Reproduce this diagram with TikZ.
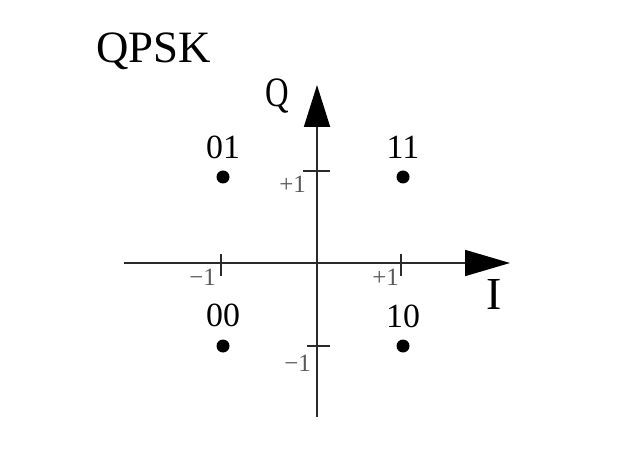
\documentclass[tikz,border=0pt]{standalone}
\usepackage{fontspec}
\setmainfont{Liberation Serif}
\usetikzlibrary{arrows.meta}
\definecolor{axisgray}{HTML}{2A2A2A}
\definecolor{ticklbl}{HTML}{5A5A5A}
\begin{document}
\begin{tikzpicture}[x=1bp,y=-1bp,
  axisline/.style={draw=axisgray,line width=1.8bp},
  tickline/.style={draw=axisgray,line width=1.1bp},
  pt/.style={circle,fill=black,inner sep=0pt,minimum size=13bp},
  bits/.style={inner sep=0pt,anchor=base,font=\fontsize{34}{34}\selectfont},
  ticklabel/.style={inner sep=0pt,anchor=base east,text=ticklbl,font=\fontsize{25}{25}\selectfont},
  axlabel/.style={inner sep=0pt,anchor=base}]
\useasboundingbox[fill=white] (0,0) rectangle (621,468);
% title
\node[inner sep=0pt,anchor=base west,font=\fontsize{45}{45}\selectfont] (title) at (96,63) {QPSK};
% axes
\coordinate (xl) at (124,263);
\coordinate (xr) at (510,263);
\coordinate (yb) at (317,417);
\coordinate (yt) at (317,85);
\draw[axisline,-{Triangle[length=45bp,width=26bp,color=black,fill=black]}] (xl) -- (xr);
\draw[axisline,-{Triangle[length=42bp,width=26bp,color=black,fill=black]}] (yb) -- (yt);
% axis labels
\node[axlabel,font=\fontsize{42}{42}\selectfont,xscale=0.78] (qlbl) at (277,107) {Q};
\node[axlabel,font=\fontsize{46}{46}\selectfont] (ilbl) at (494,310) {I};
% ticks
\coordinate (tx1a) at (221,254); \coordinate (tx1b) at (221,276);
\coordinate (tx2a) at (401,254); \coordinate (tx2b) at (401,276);
\coordinate (ty1a) at (303,171); \coordinate (ty1b) at (330,171);
\coordinate (ty2a) at (307,346); \coordinate (ty2b) at (330,346);
\draw[tickline] (tx1a) -- (tx1b);
\draw[tickline] (tx2a) -- (tx2b);
\draw[tickline] (ty1a) -- (ty1b);
\draw[tickline] (ty2a) -- (ty2b);
% tick labels
\node[ticklabel] (lxm) at (216,286) {−1};
\node[ticklabel] (lxp) at (399,286) {+1};
\node[ticklabel] (lyp) at (306,193) {+1};
\node[ticklabel] (lym) at (311,371) {−1};
% constellation points
\node[pt] (p01) at (223,177) {};
\node[pt] (p11) at (403,177) {};
\node[pt] (p00) at (223,346) {};
\node[pt] (p10) at (403,346) {};
% bit labels
\node[bits] (b01) at (223,159) {01};
\node[bits] (b11) at (403,159) {11};
\node[bits] (b00) at (223,326) {00};
\node[bits] (b10) at (403,327) {10};
\end{tikzpicture}
\end{document}
